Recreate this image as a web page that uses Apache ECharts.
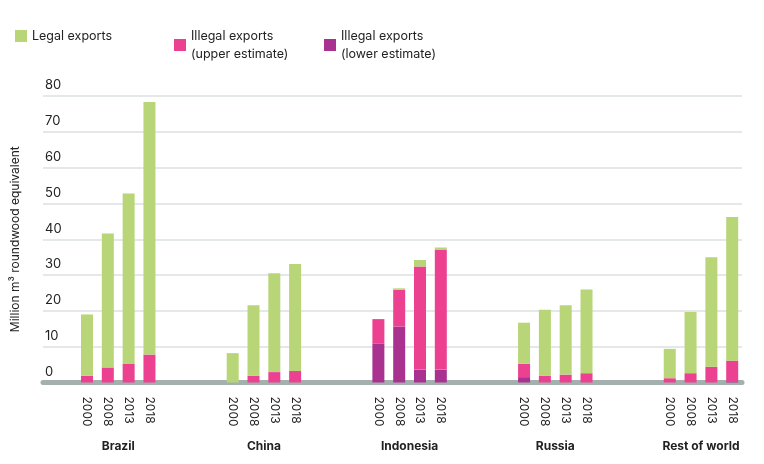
<!DOCTYPE html>
<html><head><meta charset="utf-8">
<script src="https://cdn.jsdelivr.net/npm/echarts@6/dist/echarts.min.js"></script>
<style>html,body{margin:0;padding:0;background:#fff}#c{width:764px;height:464px}</style>
</head><body><div id="c"></div>
<script>
const countries = ['Brazil','China','Indonesia','Russia','Rest of world'];
const years = ['2000','2008','2013','2018'];
const legal = [17.1,37.4,47.6,70.5, 8.2,19.7,27.6,29.9, 0,0.4,1.8,0.7, 11.5,18.4,19.4,23.4, 8.2,17.1,30.6,40.1];
const illegalUpper = [1.9,4.2,5.2,7.8, 0,1.9,2.9,3.2, 17.7,25.9,32.4,37.0, 5.2,1.9,2.2,2.6, 1.2,2.6,4.4,6.1];
const illegalLower = [0,0,0,0, 0,0,0,0, 10.8,15.6,3.6,3.6, 1.5,0,0,0, 0,0,0,0.3];
const yTicks = [0,10,20,30,40,50,60,70,80];

// 32 category slots: 4 years per country + 3 blank slots between groups
const slots = [];
const slotIndex = [];
countries.forEach((c,g)=>{
  years.forEach((y,i)=>{slotIndex.push(slots.length); slots.push(y);});
  if (g < countries.length-1) slots.push('','','');
});
const fill = arr => { const out = slots.map(()=>'-'); arr.forEach((v,k)=>out[slotIndex[k]]=v); return out; };
const upperOnly = illegalUpper.map((v,k)=>Math.max(0, +(v-illegalLower[k]).toFixed(2)));
const cPos = countries.map((c,g)=>g*7+1.5);
const cOf = {}; cPos.forEach((p,g)=>cOf[p]=countries[g]);

const chart = echarts.init(document.getElementById('c'));
const legendBase = {top:22, itemWidth:12, itemHeight:12, icon:'rect', textStyle:{fontSize:12.5,color:'#222',fontFamily:'Inter',lineHeight:18, verticalAlign:'top'}, selectedMode:false, align:'left'};
chart.setOption({
  animation:false,
  textStyle:{fontFamily:'Inter'},
  legend:[
    Object.assign({left:10, data:['Legal exports']}, legendBase),
    Object.assign({left:169, data:['Illegal exports\n(upper estimate)']}, legendBase),
    Object.assign({left:319, data:['Illegal exports\n(lower estimate)']}, legendBase)
  ],
  grid:[{left:43, right:22, top:96, bottom:81.5},{left:76.6, right:21.4, top:96, bottom:81.5}],
  xAxis:[{
    gridIndex:0, type:'value', min:0, max:1,
    splitLine:{show:false}, axisLabel:{show:false}, axisTick:{show:false},
    axisLine:{show:true, lineStyle:{color:'#a3b0ae', width:5}}
  },{
    gridIndex:1, type:'category', data:slots,
    axisLine:{show:false}, axisTick:{show:false},
    axisLabel:{interval:0, rotate:-90, margin:14, fontSize:12, color:'#222'}
  },{
    gridIndex:1, type:'value', min:-0.5, max:31.5, position:'bottom', offset:50,
    axisLine:{show:false}, axisTick:{show:false}, splitLine:{show:false},
    axisLabel:{customValues:cPos, fontSize:12, fontWeight:'bold', color:'#222', formatter:v=>cOf[v]||''}
  }],
  yAxis:[{
    gridIndex:0, type:'value', min:0, max:80, interval:10,
    name:'Million m³ roundwood equivalent', nameLocation:'middle', nameGap:22, nameRotate:90,
    nameTextStyle:{fontSize:12, color:'#222'},
    axisLine:{show:false}, axisTick:{show:false},
    axisLabel:{inside:true, margin:2, verticalAlign:'bottom', padding:[0,0,4,0], fontSize:13, color:'#222', formatter:v=>yTicks.includes(v)?String(v):''},
    splitLine:{lineStyle:{color:'#dde1e1', width:1.5}}
  },{
    gridIndex:1, type:'value', min:0, max:80, interval:10, show:false
  }],
  series:[
    {name:'Illegal exports\n(lower estimate)', type:'bar', stack:'a', xAxisIndex:1, yAxisIndex:1, barWidth:12, data:fill(illegalLower), itemStyle:{color:'#a93291'}},
    {name:'Illegal exports\n(upper estimate)', type:'bar', stack:'a', xAxisIndex:1, yAxisIndex:1, barWidth:12, data:fill(upperOnly), itemStyle:{color:'#ec4190'}},
    {name:'Legal exports', type:'bar', stack:'a', xAxisIndex:1, yAxisIndex:1, barWidth:12, data:fill(legal), itemStyle:{color:'#b8d678'}}
  ]
});
</script></body></html>
